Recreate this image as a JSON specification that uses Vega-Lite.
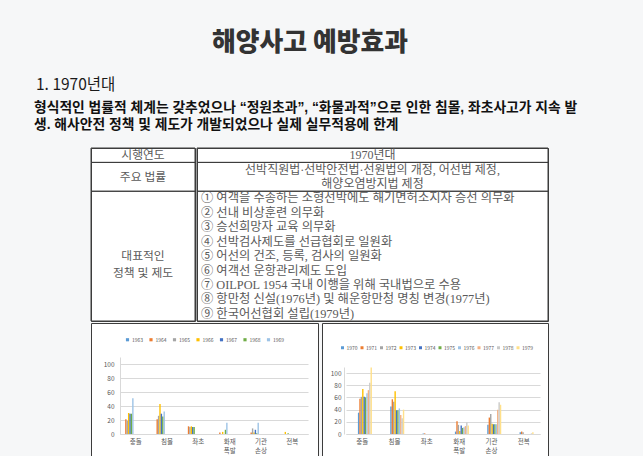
{
  "$schema": "https://vega.github.io/schema/vega-lite/v6.json",
  "background": "#f6f7f8",
  "padding": {"left": 34, "right": 37, "top": 29, "bottom": 0},
  "title": {"text": "해양사고 예방효과", "anchor": "middle", "fontSize": 25.8, "fontWeight": 900, "color": "#333333", "offset": 21, "dx": -10},
  "config": {
    "font": "Noto Sans CJK KR",
    "view": {"stroke": "#3c3c3c", "strokeWidth": 1, "fill": "#ffffff"}
  },
  "spacing": 14,
  "center": true,
  "datasets": {
    "intro": [
      {"line": 1, "text": "형식적인 법률적 체계는 갖추었으나 “정원초과”, “화물과적”으로 인한 침몰, 좌초사고가 지속 발"},
      {"line": 2, "text": "생. 해사안전 정책 및 제도가 개발되었으나 실제 실무적용에 한계"}
    ],
    "sections": [
      {"section": "시행연도", "start": 0, "end": 1},
      {"section": "주요 법률", "start": 1, "end": 3},
      {"section": "대표적인\n정책 및 제도", "start": 3, "end": 12}
    ],
    "table_lines": [
      {"line": 1, "kind": "heading", "text": "1970년대"},
      {"line": 2, "kind": "heading", "text": "선박직원법·선박안전법·선원법의 개정, 어선법 제정,"},
      {"line": 3, "kind": "heading", "text": "해양오염방지법 제정"},
      {"line": 4, "kind": "item", "text": "① 여객을 수송하는 소형선박에도 해기면허소지자 승선 의무화"},
      {"line": 5, "kind": "item", "text": "② 선내 비상훈련 의무화"},
      {"line": 6, "kind": "item", "text": "③ 승선희망자 교육 의무화"},
      {"line": 7, "kind": "item", "text": "④ 선박검사제도를 선급협회로 일원화"},
      {"line": 8, "kind": "item", "text": "⑤ 어선의 건조, 등록, 검사의 일원화"},
      {"line": 9, "kind": "item", "text": "⑥ 여객선 운항관리제도 도입"},
      {"line": 10, "kind": "item", "text": "⑦ OILPOL 1954 국내 이행을 위해 국내법으로 수용"},
      {"line": 11, "kind": "item", "text": "⑧ 항만청 신설(1976년) 및 해운항만청 명칭 변경(1977년)"},
      {"line": 12, "kind": "item", "text": "⑨ 한국어선협회 설립(1979년)"}
    ],
    "acc_1960s": [
      {"year": "1963", "type": "충돌", "count": 0}, {"year": "1964", "type": "충돌", "count": 21}, {"year": "1965", "type": "충돌", "count": 19}, {"year": "1966", "type": "충돌", "count": 30}, {"year": "1967", "type": "충돌", "count": 29}, {"year": "1968", "type": "충돌", "count": 29}, {"year": "1969", "type": "충돌", "count": 51},
      {"year": "1963", "type": "침몰", "count": 0}, {"year": "1964", "type": "침몰", "count": 21}, {"year": "1965", "type": "침몰", "count": 26}, {"year": "1966", "type": "침몰", "count": 43}, {"year": "1967", "type": "침몰", "count": 29}, {"year": "1968", "type": "침몰", "count": 25}, {"year": "1969", "type": "침몰", "count": 32},
      {"year": "1963", "type": "좌초", "count": 0}, {"year": "1964", "type": "좌초", "count": 11}, {"year": "1965", "type": "좌초", "count": 10}, {"year": "1966", "type": "좌초", "count": 11}, {"year": "1967", "type": "좌초", "count": 10}, {"year": "1968", "type": "좌초", "count": 10}, {"year": "1969", "type": "좌초", "count": 0},
      {"year": "1963", "type": "화재 폭발", "count": 0}, {"year": "1964", "type": "화재 폭발", "count": 2}, {"year": "1965", "type": "화재 폭발", "count": 0}, {"year": "1966", "type": "화재 폭발", "count": 3}, {"year": "1967", "type": "화재 폭발", "count": 0}, {"year": "1968", "type": "화재 폭발", "count": 6}, {"year": "1969", "type": "화재 폭발", "count": 16},
      {"year": "1963", "type": "기관 손상", "count": 0}, {"year": "1964", "type": "기관 손상", "count": 2}, {"year": "1965", "type": "기관 손상", "count": 8}, {"year": "1966", "type": "기관 손상", "count": 2}, {"year": "1967", "type": "기관 손상", "count": 6}, {"year": "1968", "type": "기관 손상", "count": 1}, {"year": "1969", "type": "기관 손상", "count": 16},
      {"year": "1963", "type": "전복", "count": 0}, {"year": "1964", "type": "전복", "count": 0}, {"year": "1965", "type": "전복", "count": 0}, {"year": "1966", "type": "전복", "count": 3}, {"year": "1967", "type": "전복", "count": 0}, {"year": "1968", "type": "전복", "count": 1}, {"year": "1969", "type": "전복", "count": 0}
    ],
    "acc_1970s": [
      {"year": "1970", "type": "충돌", "count": 35}, {"year": "1971", "type": "충돌", "count": 58}, {"year": "1972", "type": "충돌", "count": 61}, {"year": "1973", "type": "충돌", "count": 74}, {"year": "1974", "type": "충돌", "count": 61}, {"year": "1975", "type": "충돌", "count": 60}, {"year": "1976", "type": "충돌", "count": 67}, {"year": "1977", "type": "충돌", "count": 72}, {"year": "1978", "type": "충돌", "count": 84}, {"year": "1979", "type": "충돌", "count": 109},
      {"year": "1970", "type": "침몰", "count": 45}, {"year": "1971", "type": "침몰", "count": 57}, {"year": "1972", "type": "침몰", "count": 53}, {"year": "1973", "type": "침몰", "count": 70}, {"year": "1974", "type": "침몰", "count": 39}, {"year": "1975", "type": "침몰", "count": 39}, {"year": "1976", "type": "침몰", "count": 42}, {"year": "1977", "type": "침몰", "count": 31}, {"year": "1978", "type": "침몰", "count": 26}, {"year": "1979", "type": "침몰", "count": 40},
      {"year": "1970", "type": "좌초", "count": 1}, {"year": "1971", "type": "좌초", "count": 1}, {"year": "1972", "type": "좌초", "count": 0}, {"year": "1973", "type": "좌초", "count": 0}, {"year": "1974", "type": "좌초", "count": 0}, {"year": "1975", "type": "좌초", "count": 0}, {"year": "1976", "type": "좌초", "count": 0}, {"year": "1977", "type": "좌초", "count": 0}, {"year": "1978", "type": "좌초", "count": 0}, {"year": "1979", "type": "좌초", "count": 0},
      {"year": "1970", "type": "화재 폭발", "count": 4}, {"year": "1971", "type": "화재 폭발", "count": 21}, {"year": "1972", "type": "화재 폭발", "count": 15}, {"year": "1973", "type": "화재 폭발", "count": 5}, {"year": "1974", "type": "화재 폭발", "count": 14}, {"year": "1975", "type": "화재 폭발", "count": 10}, {"year": "1976", "type": "화재 폭발", "count": 11}, {"year": "1977", "type": "화재 폭발", "count": 13}, {"year": "1978", "type": "화재 폭발", "count": 19}, {"year": "1979", "type": "화재 폭발", "count": 14},
      {"year": "1970", "type": "기관 손상", "count": 15}, {"year": "1971", "type": "기관 손상", "count": 27}, {"year": "1972", "type": "기관 손상", "count": 33}, {"year": "1973", "type": "기관 손상", "count": 17}, {"year": "1974", "type": "기관 손상", "count": 16}, {"year": "1975", "type": "기관 손상", "count": 16}, {"year": "1976", "type": "기관 손상", "count": 16}, {"year": "1977", "type": "기관 손상", "count": 40}, {"year": "1978", "type": "기관 손상", "count": 52}, {"year": "1979", "type": "기관 손상", "count": 48},
      {"year": "1970", "type": "전복", "count": 3}, {"year": "1971", "type": "전복", "count": 4}, {"year": "1972", "type": "전복", "count": 3}, {"year": "1973", "type": "전복", "count": 0}, {"year": "1974", "type": "전복", "count": 0}, {"year": "1975", "type": "전복", "count": 0}, {"year": "1976", "type": "전복", "count": 0}, {"year": "1977", "type": "전복", "count": 0}, {"year": "1978", "type": "전복", "count": 1}, {"year": "1979", "type": "전복", "count": 3}
    ]
  },
  "vconcat": [
    {
      "width": 572,
      "height": {"step": 17},
      "view": {"stroke": null, "fill": null},
      "title": {"text": "1. 1970년대", "anchor": "start", "fontSize": 15.5, "fontWeight": "normal", "color": "#1a1a1a", "offset": 6, "dx": 2},
      "data": {"name": "intro"},
      "mark": {"type": "text", "align": "left", "baseline": "middle", "font": "Liberation Sans, Noto Sans CJK KR", "fontSize": 13.8, "fontWeight": "bold", "color": "#111111"},
      "encoding": {
        "x": {"value": 0},
        "y": {"field": "line", "type": "ordinal", "axis": null},
        "text": {"field": "text", "type": "nominal"}
      }
    },
    {
      "spacing": 0,
      "vconcat": [
        {
          "spacing": 0,
          "hconcat": [
            {
              "width": 104,
              "height": 173,
              "data": {"name": "sections"},
              "layer": [
                {
                  "mark": {"type": "rect", "fill": "transparent", "stroke": "#3c3c3c", "strokeWidth": 1},
                  "encoding": {
                    "y": {"field": "start", "type": "quantitative", "scale": {"domain": [0, 12], "reverse": true, "nice": false, "zero": false}, "axis": null},
                    "y2": {"field": "end"}
                  }
                },
                {
                  "transform": [{"fold": ["start", "end"], "as": ["edge", "edge_line"]}],
                  "mark": {"type": "text", "lineBreak": "\n", "font": "Liberation Serif, Noto Sans CJK KR", "fontSize": 11.8, "color": "#5a5a5a", "baseline": "middle", "lineHeight": 17},
                  "encoding": {
                    "y": {"aggregate": "mean", "field": "edge_line", "type": "quantitative"},
                    "text": {"field": "section", "type": "nominal"}
                  }
                }
              ]
            },
            {
              "width": 351,
              "height": 173,
              "layer": [
                {
                  "data": {"name": "sections"},
                  "mark": {"type": "rect", "fill": "transparent", "stroke": "#3c3c3c", "strokeWidth": 1},
                  "encoding": {
                    "y": {"field": "start", "type": "quantitative", "scale": {"domain": [0, 12], "reverse": true, "nice": false, "zero": false}, "axis": null},
                    "y2": {"field": "end"}
                  }
                },
                {
                  "data": {"name": "table_lines"},
                  "transform": [{"filter": "datum.kind === 'heading'"}],
                  "mark": {"type": "text", "baseline": "middle", "dy": -7.2, "font": "Liberation Serif, Noto Sans CJK KR", "fontSize": 12, "color": "#5a5a5a"},
                  "encoding": {
                    "y": {"field": "line", "type": "quantitative"},
                    "text": {"field": "text", "type": "nominal"}
                  }
                },
                {
                  "data": {"name": "table_lines"},
                  "transform": [{"filter": "datum.kind === 'item'"}],
                  "mark": {"type": "text", "align": "left", "baseline": "middle", "dy": -7.2, "font": "Liberation Serif, Noto Sans CJK KR", "fontSize": 12.3, "color": "#5a5a5a"},
                  "encoding": {
                    "x": {"value": 4},
                    "y": {"field": "line", "type": "quantitative"},
                    "text": {"field": "text", "type": "nominal"}
                  }
                }
              ]
            }
          ]
        },
        {
          "spacing": 2,
          "resolve": {"scale": {"color": "independent"}, "legend": {"color": "independent"}},
          "hconcat": [
            {
              "width": 227,
              "height": 138,
              "data": {"name": "acc_1960s"},
              "mark": {"type": "bar"},
              "encoding": {
                "x": {"field": "type", "type": "nominal", "sort": ["충돌", "침몰", "좌초", "화재 폭발", "기관 손상", "전복"],
                  "scale": {"range": [29, 217], "paddingInner": 0.24, "paddingOuter": 0.12},
                  "axis": {"title": null, "labelAngle": 0, "labelExpr": "split(datum.label, ' ')", "labelFontSize": 6.5, "labelColor": "#595959", "ticks": false, "tickSize": 0, "domainColor": "#d9d9d9", "offset": -27, "labelPadding": 4, "labelLineHeight": 9}},
                "xOffset": {"field": "year", "type": "nominal", "scale": {"paddingInner": 0}},
                "y": {"field": "count", "type": "quantitative", "scale": {"domain": [0, 110], "range": [111, 34], "nice": false},
                  "axis": {"title": null, "values": [0, 20, 40, 60, 80, 100], "ticks": false, "tickSize": 0, "domainColor": "#d9d9d9", "gridColor": "#d9d9d9", "labelFontSize": 6.5, "labelColor": "#595959", "offset": -29, "labelPadding": 6}},
                "color": {"field": "year", "type": "nominal",
                  "scale": {"range": ["#5B9BD5", "#ED7D31", "#A5A5A5", "#FFC000", "#4472C4", "#70AD47", "#9DC3E6"]},
                  "legend": {"title": null, "orient": "none", "legendX": 34, "legendY": 14, "direction": "horizontal", "columns": 7, "symbolType": "square", "symbolSize": 10, "symbolStrokeWidth": 0, "labelFontSize": 5, "labelColor": "#595959", "labelOffset": 2, "columnPadding": 4.5, "padding": 0}}
              }
            },
            {
              "width": 226,
              "height": 138,
              "data": {"name": "acc_1970s"},
              "mark": {"type": "bar"},
              "encoding": {
                "x": {"field": "type", "type": "nominal", "sort": ["충돌", "침몰", "좌초", "화재 폭발", "기관 손상", "전복"],
                  "scale": {"range": [24, 218], "paddingInner": 0.13, "paddingOuter": 0.065},
                  "axis": {"title": null, "labelAngle": 0, "labelExpr": "split(datum.label, ' ')", "labelFontSize": 6.5, "labelColor": "#595959", "ticks": false, "tickSize": 0, "domainColor": "#d9d9d9", "offset": -27, "labelPadding": 4, "labelLineHeight": 9}},
                "xOffset": {"field": "year", "type": "nominal", "scale": {"paddingInner": 0}},
                "y": {"field": "count", "type": "quantitative", "scale": {"domain": [0, 110], "range": [111, 44], "nice": false},
                  "axis": {"title": null, "values": [0, 20, 40, 60, 80, 100], "ticks": false, "tickSize": 0, "domainColor": "#d9d9d9", "gridColor": "#d9d9d9", "labelFontSize": 6.5, "labelColor": "#595959", "offset": -22, "labelPadding": 3}},
                "color": {"field": "year", "type": "nominal",
                  "scale": {"range": ["#5B9BD5", "#ED7D31", "#A5A5A5", "#FFC000", "#4472C4", "#70AD47", "#9DC3E6", "#F4B183", "#C9C9C9", "#FFE08A"]},
                  "legend": {"title": null, "orient": "none", "legendX": 18, "legendY": 22, "direction": "horizontal", "columns": 10, "symbolType": "square", "symbolSize": 9, "symbolStrokeWidth": 0, "labelFontSize": 5, "labelColor": "#595959", "labelOffset": 1.5, "columnPadding": 1.5, "padding": 0}}
              }
            }
          ]
        }
      ]
    }
  ]
}
